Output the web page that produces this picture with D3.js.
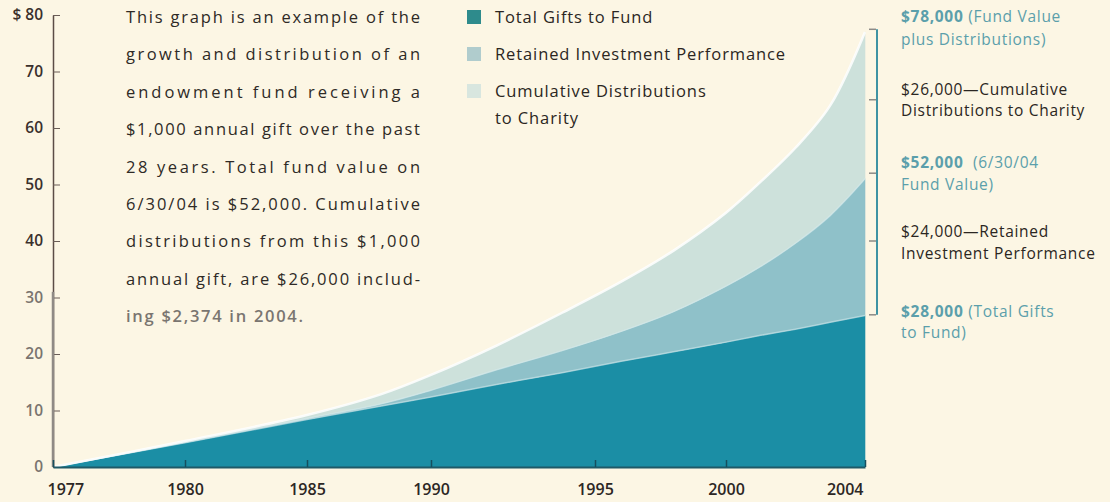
<!DOCTYPE html>
<html>
<head>
<meta charset="utf-8">
<script src="https://cdn.jsdelivr.net/npm/d3@7"></script>
<style>
  body { margin: 0; background: #fcf6e4; }
  svg { display: block; font-family: "Open Sans", Lato, sans-serif; }
</style>
</head>
<body>
<svg id="chart" width="1110" height="502"></svg>
<script>
// values in $ thousands
const YEARS = [1977, 1980, 1985, 1988, 1990, 1992, 1994, 1996, 1998, 2000, 2001, 2002, 2003, 2004];
const GIFTS = [0, 4.3, 8.4, 10.8, 12.4, 14.6, 16.7, 18.7, 20.4, 22.1, 23.3, 24.4, 25.6, 26.8];
const RETAINED = [0, 0.1, 0.2, 0.4, 1.2, 2.6, 3.9, 5.3, 7.1, 9.9, 12.2, 15.2, 18.9, 24.2];
const DISTRIBUTIONS = [0, 0.2, 0.6, 1.7, 2.7, 4.3, 6.7, 8.8, 10.8, 13.0, 15.0, 16.9, 19.5, 26.0];

const SERIES = ["Total Gifts to Fund", "Retained Investment Performance", "Cumulative Distributions to Charity"];
const SERIES_KEYS = ["gifts", "retained", "distributions"];
const Y_TICKS = [0, 10, 20, 30, 40, 50, 60, 70, 80];
const X_TICKS = [1977, 1980, 1985, 1990, 1995, 2000, 2004];

const NOTE_LINES = [
  "This graph is an example of the",
  "growth and distribution of an",
  "endowment fund receiving a",
  "$1,000 annual gift over the past",
  "28 years. Total fund value on",
  "6/30/04 is $52,000. Cumulative",
  "distributions from this $1,000",
  "annual gift, are $26,000 includ-",
  "ing $2,374 in 2004.",
];

const CALLOUT_VALUES = [78, 65, 52, 40, 28];
const CALLOUT_LINES = [
  [["$78,000", true], [" (Fund Value", false], ["plus Distributions)", false]],
  [["$26,000—Cumulative", false], ["Distributions to Charity", false]],
  [["$52,000", true], ["\u00a0 (6/30/04", false], ["Fund Value)", false]],
  [["$24,000—Retained", false], ["Investment Performance", false]],
  [["$28,000", true], [" (Total Gifts", false], ["to Fund)", false]],
];

const COLORS = { gifts: "#1b8ea5", retained: "#8fc1c9", distributions: "#cde1db" };
const LEGEND_COLORS = ["#2e8b8c", "#b0cccd", "#d8e6df"];

const svg = d3.select("#chart");
const plotLeft = 53, plotBottom = 467, plotTop = 15;

// the printed year ticks are not evenly spaced, so use a piecewise scale
const xStops = [0, 132, 254, 378, 542, 673, 812];
const x = d3.scaleLinear().domain(X_TICKS).range(xStops.map((d) => plotLeft + d));
const y = d3.scaleLinear().domain([0, 80]).range([plotBottom, plotTop]);

const rows = YEARS.map((yr, i) => ({
  year: yr,
  gifts: GIFTS[i],
  retained: RETAINED[i],
  distributions: DISTRIBUTIONS[i],
}));
const stacked = d3.stack().keys(SERIES_KEYS)(rows);

const curve = d3.curveCatmullRom.alpha(0.5);
const area = d3.area()
  .x((d) => x(d.data.year))
  .y0((d) => y(d[0]))
  .y1((d) => y(d[1]))
  .curve(curve);
const topLine = d3.line()
  .x((d) => x(d.data.year))
  .y((d) => y(d[1]))
  .curve(curve);

svg.append("g").selectAll("path")
  .data(stacked)
  .join("path")
  .attr("d", area)
  .attr("fill", (d) => COLORS[d.key])
  .attr("stroke", (d) => COLORS[d.key])
  .attr("stroke-width", 0.6);

// soft highlight along the layer edges
svg.append("g").selectAll("path")
  .data(stacked)
  .join("path")
  .attr("d", topLine)
  .attr("fill", "none")
  .attr("stroke", (d, i) => (i == 2 ? "#ffffff" : "#d6ebee"))
  .attr("stroke-opacity", (d, i) => (i == 2 ? 0.85 : 0.55))
  .attr("stroke-width", (d, i) => (i == 2 ? 2.5 : 1.5));

// Y AXIS
const yAxis = d3.axisLeft(y)
  .tickValues(Y_TICKS)
  .tickSize(-7)
  .tickSizeOuter(0)
  .tickPadding(10)
  .tickFormat((d) => (d == 80 ? "$ 80" : d));
const yg = svg.append("g").attr("transform", `translate(${plotLeft},0)`).call(yAxis);
yg.select(".domain").attr("stroke", "#5b4c46").attr("stroke-width", 1.5);
yg.selectAll(".tick line").attr("stroke", "#6a5d57").attr("stroke-width", 1);
yg.selectAll(".tick text")
  .attr("font-size", 15.5)
  .attr("font-weight", 600)
  .attr("font-family", "'Open Sans', sans-serif")
  .attr("fill", (d) => (d <= 30 ? "#7a746f" : "#3a302c"));
// the lower part of the printed axis is greyer
yg.append("line")
  .attr("y1", y(31)).attr("y2", y(0))
  .attr("stroke", "#8f8a85").attr("stroke-width", 2.5);

// X AXIS
const xAxis = d3.axisBottom(x)
  .tickValues(X_TICKS)
  .tickSize(-7)
  .tickSizeOuter(0)
  .tickPadding(17)
  .tickFormat((d) => d);
const xg = svg.append("g").attr("transform", `translate(0,${plotBottom})`).call(xAxis);
xg.select(".domain").attr("stroke", "#1f5a68").attr("stroke-width", 2);
xg.selectAll(".tick line").attr("stroke", "#164f5e").attr("stroke-width", 1.5);
xg.selectAll(".tick text")
  .attr("font-size", 16)
  .attr("font-weight", 600)
  .attr("font-family", "'Open Sans', sans-serif")
  .attr("fill", "#2c2724")
  .attr("text-anchor", (d) => (d == 1977 ? "start" : d == 2004 ? "end" : "middle"))
  .attr("dx", (d) => (d == 1977 ? -6 : d == 2004 ? -2 : 0));

// NOTE PARAGRAPH
const note = svg.append("g").attr("font-size", 16.5).attr("fill", "#2e2a26");
note.selectAll("text")
  .data(NOTE_LINES)
  .join("text")
  .attr("x", 126)
  .attr("y", (d, i) => 23 + i * 37.4)
  .attr("textLength", (d, i) => (i == NOTE_LINES.length - 1 ? 177 : 294))
  .attr("lengthAdjust", "spacing")
  .attr("fill", (d, i) => (i == NOTE_LINES.length - 1 ? "#7a7570" : "#2e2a26"))
  .attr("font-weight", (d, i) => (i == NOTE_LINES.length - 1 ? 600 : 400))
  .text((d) => d);

// LEGEND
const legend = svg.append("g")
  .attr("font-size", 16.5)
  .attr("letter-spacing", 0.9)
  .attr("fill", "#2b2622");
SERIES.forEach((name, i) => {
  const g = legend.append("g").attr("transform", `translate(467,${10 + i * 37})`);
  g.append("rect").attr("width", 14).attr("height", 14).attr("fill", LEGEND_COLORS[i]);
  const words = i == 2 ? ["Cumulative Distributions", "to Charity"] : [name];
  words.forEach((w, j) => {
    g.append("text").attr("x", 28).attr("y", 13 + j * 27).text(w);
  });
});

// RIGHT CALLOUTS
const callouts = svg.append("g").attr("letter-spacing", 0.7);
const bx = 877;
callouts.append("line")
  .attr("x1", bx).attr("x2", bx)
  .attr("y1", y(CALLOUT_VALUES[0]) + 3)
  .attr("y2", y(CALLOUT_VALUES[4]) + 6)
  .attr("stroke", "#3f93a3")
  .attr("stroke-width", 2);
callouts.selectAll(".co-tick")
  .data(CALLOUT_VALUES)
  .join("line")
  .attr("class", "co-tick")
  .attr("x1", bx - 8).attr("x2", bx - 1)
  .attr("y1", (d, i) => y(d) + (i == 0 ? 3 : i == 4 ? 6 : 0))
  .attr("y2", (d, i) => y(d) + (i == 0 ? 3 : i == 4 ? 6 : 0))
  .attr("stroke", "#8d8a86")
  .attr("stroke-width", 1.5);

const calloutDy = [-4, -5, -5, -4, 8];
CALLOUT_LINES.forEach((parts, i) => {
  const teal = i % 2 == 0;
  const base = y(CALLOUT_VALUES[i]) + calloutDy[i];
  const t = callouts.append("text")
    .attr("x", 901)
    .attr("y", base)
    .attr("font-size", 15.5)
    .attr("fill", teal ? "#5b9fab" : "#2b2622");
  // first line may be split into bold + regular pieces
  const last = parts[parts.length - 1];
  parts.slice(0, -1).forEach((p) => {
    t.append("tspan").attr("font-weight", p[1] ? 700 : 400).text(p[0]);
  });
  callouts.append("text")
    .attr("x", 901)
    .attr("y", base + (i == 0 ? 23 : 21.5))
    .attr("font-size", 15.5)
    .attr("fill", teal ? "#5b9fab" : "#2b2622")
    .text(last[0]);
});
</script>
</body>
</html>
